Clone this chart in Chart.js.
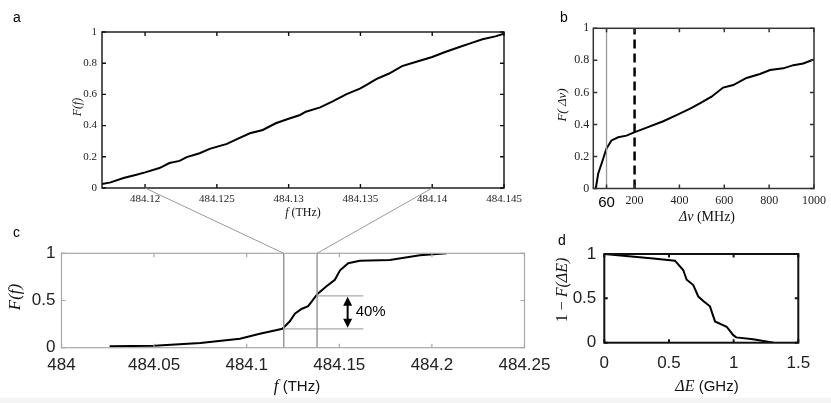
<!DOCTYPE html>
<html>
<head>
<meta charset="utf-8">
<script src="https://cdn.jsdelivr.net/npm/chart.js@4.4.1/dist/chart.umd.min.js"></script>
<style>
  html, body { margin: 0; padding: 0; background: #fff; }
  #wrap { position: relative; width: 831px; height: 403px; overflow: hidden; background: #fff; }
  #wrap canvas { position: absolute; left: 0; top: 0; }
  .tag { position: absolute; font: 14px/16px "Liberation Sans", Arial, sans-serif; color: #000; }
  #strip { position: absolute; left: 0; right: 0; top: 398px; bottom: 0; background: #f4f4f4; }
</style>
</head>
<body>
<div id="wrap">
  <div id="strip"></div>
  <canvas id="chartA" width="831" height="403"></canvas>
  <canvas id="chartB" width="831" height="403"></canvas>
  <canvas id="chartC" width="831" height="403"></canvas>
  <canvas id="chartD" width="831" height="403"></canvas>
  <div class="tag" style="left:13px;top:9px">a</div>
  <div class="tag" style="left:560px;top:9px">b</div>
  <div class="tag" style="left:13px;top:224px">c</div>
  <div class="tag" style="left:558px;top:232px">d</div>
</div>
<script>
// panel a: zoomed CDF of frequencies
const aFreq = [484.117, 484.1176, 484.1185, 484.1194, 484.12, 484.121, 484.1217, 484.1224, 484.1229, 484.1238,
  484.1245, 484.1257, 484.1264, 484.1273, 484.1282, 484.1291, 484.1301, 484.1308, 484.1312, 484.1322,
  484.1331, 484.134, 484.135, 484.1354, 484.1361, 484.137, 484.1379, 484.1389, 484.14, 484.1409,
  484.1419, 484.1428, 484.1435, 484.1444, 484.145];
const aCdf = [0.026, 0.036, 0.064, 0.085, 0.10, 0.128, 0.16, 0.174, 0.198, 0.223,
  0.251, 0.283, 0.313, 0.351, 0.372, 0.415, 0.447, 0.468, 0.489, 0.517,
  0.557, 0.6, 0.638, 0.66, 0.698, 0.734, 0.781, 0.809, 0.84, 0.872,
  0.904, 0.932, 0.953, 0.972, 0.989];
const aXTicks = [484.12, 484.125, 484.13, 484.135, 484.14, 484.145];
const aYTicks = [0, 0.2, 0.4, 0.6, 0.8, 1];
const aZoomTicks = [484.12, 484.14];

// panel b: CDF of linewidth
const bNu = [27, 38, 53, 75, 97, 127, 164, 198, 254, 328, 387, 450, 491, 543, 595, 640, 699, 759, 804, 863, 908, 952, 1000];
const bCdf = [0, 0.094, 0.156, 0.25, 0.30, 0.32, 0.33, 0.35, 0.38, 0.42, 0.458, 0.50, 0.531, 0.573, 0.63, 0.646, 0.69, 0.715, 0.74, 0.75, 0.77, 0.78, 0.806];
const bXTicks = [75, 200, 400, 600, 800, 1000];
const bYTicks = [0, 0.2, 0.4, 0.6, 0.8, 1];
const bMarkNu = 75;      // grey line, labelled "60"
const bMarkLabel = '60';
const bCutNu = 200;      // dashed line

// panel c: full CDF of frequencies
const cFreq = [484.026, 484.05, 484.075, 484.0963, 484.1071, 484.1193, 484.1233, 484.126, 484.1296, 484.1332,
  484.1382, 484.1431, 484.1476, 484.1504, 484.1548, 484.1611, 484.1773, 484.1935, 484.208];
const cCdf = [0.015, 0.02, 0.05, 0.095, 0.147, 0.2, 0.28, 0.36, 0.41, 0.44,
  0.57, 0.65, 0.72, 0.82, 0.895, 0.92, 0.93, 0.98, 1.0];
const cXTicks = [484, 484.05, 484.1, 484.15, 484.2, 484.25];
const cYTicks = [0, 0.5, 1];
const cMarks = [484.12, 484.138];
const cBand = [0.2, 0.55];
const cBandEnd = 484.163;
const cArrowF = 484.1545;
const cBandText = '40%';

// panel d: 1 - CDF of energy spacing
const dE = [0, 0.379, 0.546, 0.61, 0.637, 0.688, 0.727, 0.765, 0.817, 0.856, 0.946, 0.997, 1.02, 1.15, 1.31];
const dSurv = [1, 0.95, 0.925, 0.82, 0.71, 0.65, 0.52, 0.47, 0.41, 0.24, 0.18, 0.085, 0.06, 0.04, 0];
const dXTicks = [0, 0.5, 1, 1.5];
const dYTicks = [0, 0.5, 1];

const SERIF = '"Liberation Serif", "Times New Roman", serif';
const SANS = '"Liberation Sans", Arial, Helvetica, sans-serif';
const W = 831, H = 403;
const YW = 50, XH = 45;   // fixed axis box sizes (labels are clipped to them)

function fmt(v) { return String(parseFloat(Number(v).toFixed(4))); }
function pts(xs, ys) { return xs.map((x, i) => ({x: x, y: ys[i]})); }

// put the chart area at [left, top, right, bottom]
function place(box) {
  return {autoPadding: false,
    padding: {left: box[0] - YW, top: box[1], right: W - box[2], bottom: H - box[3] - XH}};
}

const noGrid = {display: false, drawTicks: false, tickLength: 0};

function xAxis(min, max, list, font, pad) {
  return {type: 'linear', min: min, max: max,
    afterBuildTicks: s => { s.ticks = list.map(v => ({value: v})); },
    afterFit: s => { s.height = XH; },
    grid: noGrid, border: {display: false},
    ticks: {font: font, color: '#222', padding: pad, maxRotation: 0, minRotation: 0, autoSkip: false,
      callback: fmt}};
}
function yAxis(list, font, pad) {
  return {type: 'linear', min: 0, max: 1,
    afterBuildTicks: s => { s.ticks = list.map(v => ({value: v})); },
    afterFit: s => { s.width = YW; },
    grid: noGrid, border: {display: false},
    ticks: {font: font, color: '#222', padding: pad, autoSkip: false, callback: fmt}};
}

// box with inward ticks, matlab style
function frame(color, width, len) {
  return {
    id: 'frame',
    afterDatasetsDraw(chart) {
      const {ctx, chartArea: a, scales} = chart;
      ctx.save();
      ctx.strokeStyle = color;
      ctx.lineWidth = width;
      ctx.beginPath();
      scales.x.ticks.forEach(t => {
        const p = scales.x.getPixelForValue(t.value);
        ctx.moveTo(p, a.bottom); ctx.lineTo(p, a.bottom - len);
        ctx.moveTo(p, a.top); ctx.lineTo(p, a.top + len);
      });
      scales.y.ticks.forEach(t => {
        const p = scales.y.getPixelForValue(t.value);
        ctx.moveTo(a.left, p); ctx.lineTo(a.left + len, p);
        ctx.moveTo(a.right, p); ctx.lineTo(a.right - len, p);
      });
      ctx.stroke();
      ctx.strokeRect(a.left, a.top, a.right - a.left, a.bottom - a.top);
      ctx.restore();
    }
  };
}

// axis titles with mixed fonts
function texts(items) {
  return {
    id: 'texts',
    afterDraw(chart) {
      const ctx = chart.ctx;
      items.forEach(it => {
        ctx.save();
        ctx.translate(it.x, it.y);
        if (it.rot) ctx.rotate(-Math.PI / 2);
        ctx.textBaseline = 'middle';
        ctx.textAlign = 'left';
        ctx.fillStyle = '#111';
        let total = 0;
        it.parts.forEach(p => { ctx.font = p[1]; total += ctx.measureText(p[0]).width; });
        let x = -total / 2;
        it.parts.forEach(p => { ctx.font = p[1]; ctx.fillText(p[0], x, 0); x += ctx.measureText(p[0]).width; });
        ctx.restore();
      });
    }
  };
}

function curve(data, color, width, dash) {
  return {data: data, borderColor: color, borderWidth: width, borderDash: dash || [],
    pointRadius: 0, tension: 0, fill: false};
}

const base = {responsive: false, animation: false, plugins: {legend: {display: false}, tooltip: {enabled: false}}};

// ---- a
const chartA = new Chart(document.getElementById('chartA'), {
  type: 'line',
  data: {datasets: [curve(pts(aFreq, aCdf), '#000', 2)]},
  options: Object.assign({}, base, {
    layout: place([102, 32, 504, 188]),
    scales: {
      x: xAxis(484.117, 484.145, aXTicks, {family: SERIF, size: 11}, 5),
      y: yAxis(aYTicks, {family: SERIF, size: 11}, 5)
    }
  }),
  plugins: [frame('#111', 1.4, 4), texts([
    {x: 303, y: 212.5, parts: [['f', 'italic 12px ' + SERIF], [' (THz)', '12px ' + SERIF]]},
    {x: 77.5, y: 107, rot: true, parts: [['F(f)', 'italic 12px ' + SERIF]]}
  ])]
});

// ---- b
const bx = xAxis(16, 1000, bXTicks, c => (c.tick && c.tick.value === bMarkNu)
  ? {family: SANS, size: 15} : {family: SERIF, size: 12}, 5);
bx.ticks.callback = v => v === bMarkNu ? bMarkLabel : fmt(v);
bx.ticks.color = c => (c.tick && c.tick.value === bMarkNu) ? '#000' : '#222';

const chartB = new Chart(document.getElementById('chartB'), {
  type: 'line',
  data: {datasets: [
    curve(pts([bMarkNu, bMarkNu], [0, 1]), '#999', 1.3),
    curve(pts([bCutNu, bCutNu], [0, 1]), '#000', 2.5, [9, 5]),
    curve(pts(bNu, bCdf), '#000', 2)
  ]},
  options: Object.assign({}, base, {
    layout: place([593.3, 28.3, 814, 188.5]),
    scales: {
      x: bx,
      y: yAxis(bYTicks, {family: SERIF, size: 12}, 4)
    }
  }),
  plugins: [frame('#333', 1.5, 4), texts([
    {x: 707, y: 217.5, parts: [['\u0394\u03BD', 'italic 14px ' + SERIF], [' (MHz)', '14px ' + SERIF]]},
    {x: 563, y: 105, rot: true, parts: [['F( \u0394\u03BD)', 'italic 13px ' + SERIF]]}
  ])]
});

// ---- c
const bandPlugin = {
  id: 'band',
  afterDatasetsDraw(chart) {
    const {ctx, scales: {x, y}} = chart;
    const ax = x.getPixelForValue(cArrowF);
    const y0 = y.getPixelForValue(cBand[0]) - 1;
    const y1 = y.getPixelForValue(cBand[1]) + 1;
    ctx.save();
    ctx.strokeStyle = '#000'; ctx.fillStyle = '#000'; ctx.lineWidth = 2;
    ctx.beginPath(); ctx.moveTo(ax, y0 - 7); ctx.lineTo(ax, y1 + 7); ctx.stroke();
    ctx.beginPath();
    ctx.moveTo(ax, y1); ctx.lineTo(ax - 4.5, y1 + 9); ctx.lineTo(ax + 4.5, y1 + 9); ctx.closePath();
    ctx.moveTo(ax, y0); ctx.lineTo(ax - 4.5, y0 - 9); ctx.lineTo(ax + 4.5, y0 - 9); ctx.closePath();
    ctx.fill();
    ctx.font = '15px ' + SANS; ctx.textBaseline = 'middle'; ctx.textAlign = 'left';
    ctx.fillText(cBandText, ax + 8, y.getPixelForValue((cBand[0] + cBand[1]) / 2));
    ctx.restore();
  }
};
const linkPlugin = {
  id: 'link',
  afterDraw(chart) {
    const {ctx, chartArea: c, scales: {x}} = chart;
    const a = chartA.chartArea, ax = chartA.scales.x;
    ctx.save();
    ctx.strokeStyle = '#9a9a9a'; ctx.lineWidth = 1;
    ctx.beginPath();
    aZoomTicks.forEach((f, i) => {
      ctx.moveTo(ax.getPixelForValue(f), a.bottom);
      ctx.lineTo(x.getPixelForValue(cMarks[i]), c.top);
    });
    ctx.stroke();
    ctx.restore();
  }
};
const chartC = new Chart(document.getElementById('chartC'), {
  type: 'line',
  data: {datasets: [
    curve(pts([cMarks[0], cMarks[0]], [0, 1]), '#999', 1.5),
    curve(pts([cMarks[1], cMarks[1]], [0, 1]), '#999', 1.5),
    curve(pts([cMarks[0], cBandEnd], [cBand[0], cBand[0]]), '#aaa', 1.2),
    curve(pts([cMarks[1], cBandEnd], [cBand[1], cBand[1]]), '#aaa', 1.2),
    curve(pts(cFreq, cCdf), '#000', 2)
  ]},
  options: Object.assign({}, base, {
    layout: place([61.5, 253.3, 524.5, 347.7]),
    scales: {
      x: xAxis(484, 484.25, cXTicks, {family: SANS, size: 17}, 7),
      y: yAxis(cYTicks, {family: SANS, size: 17}, 6)
    }
  }),
  plugins: [frame('#a8a8a8', 1.2, 4), bandPlugin, linkPlugin, texts([
    {x: 297, y: 387, parts: [['f', 'italic 17px ' + SERIF], [' (THz)', '15px ' + SANS]]},
    {x: 16, y: 297, rot: true, parts: [['F(f)', 'italic 17px ' + SERIF]]}
  ])]
});

// ---- d
const chartD = new Chart(document.getElementById('chartD'), {
  type: 'line',
  data: {datasets: [curve(pts(dE, dSurv), '#000', 2)]},
  options: Object.assign({}, base, {
    layout: place([604.3, 254, 798.3, 342.7]),
    scales: {
      x: xAxis(0, 1.5, dXTicks, {family: SANS, size: 17}, 10),
      y: yAxis(dYTicks, {family: SANS, size: 17}, 8)
    }
  }),
  plugins: [frame('#111', 2, 3.5), texts([
    {x: 707, y: 387, parts: [['\u0394E', 'italic 16px ' + SERIF], [' (GHz)', '15px ' + SANS]]},
    {x: 563, y: 290, rot: true, parts: [['1 \u2212 ', '16px ' + SERIF], ['F(\u0394E)', 'italic 16px ' + SERIF]]}
  ])]
});
</script>
</body>
</html>
